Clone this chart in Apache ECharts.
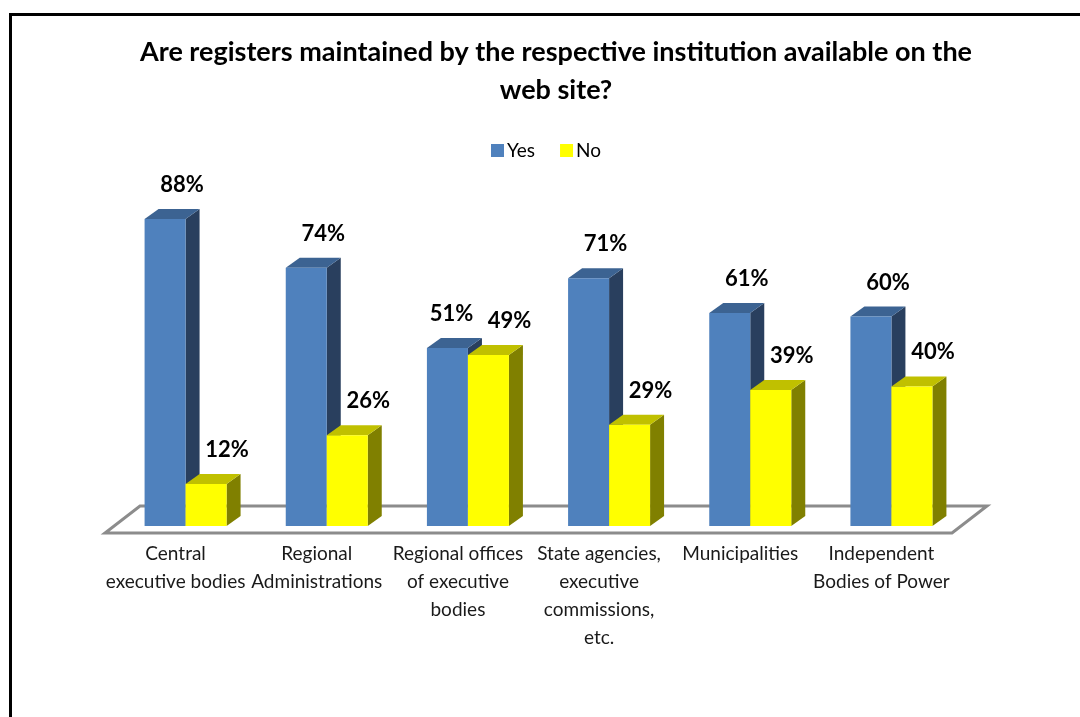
<!DOCTYPE html>
<html><head><meta charset="utf-8">
<script src="https://cdn.jsdelivr.net/npm/echarts@6/dist/echarts.min.js"></script>
<style>html,body{margin:0;padding:0;background:#fff}#c{width:1080px;height:717px}</style>
</head><body><div id="c"></div>
<script>
var categories = ["Central\nexecutive bodies", "Regional\nAdministrations", "Regional offices\nof executive\nbodies", "State agencies,\nexecutive\ncommissions,\netc.", "Municipalities", "Independent\nBodies of Power"];
var yesValues = [88, 74, 51, 71, 61, 60];
var noValues = [12, 26, 49, 29, 39, 40];
var seriesNames = ["Yes", "No"];
var titleText = "Are registers maintained by the respective institution available on the\nweb site?";

var FONT = "Lato, 'Open Sans', sans-serif";
var colors = {
  Yes: {front: "#4F81BD", top: "#3C6392", side: "#293F5E"},
  No: {front: "#FFFF00", top: "#C0C000", side: "#808000"}
};
var DX = 14, DY = 10, BW = 41;

function makeRender(name, offset, labelShift, otherValues) {
  var col = colors[name];
  return function (params, api) {
    var cat = api.value(0), val = api.value(1);
    var base = api.coord([cat, 0]);
    var top = api.coord([cat, val]);
    var x0 = base[0] + offset, x1 = x0 + BW, yb = base[1], yt = top[1];
    var shift = labelShift;
    if (otherValues) {
      var oy = api.coord([cat, otherValues[params.dataIndex]])[1];
      if (Math.abs(oy - yt) < 24) shift -= 13; // avoid collision with neighbour label
    }
    return {
      type: "group",
      children: [
        {type: "polygon", shape: {points: [[x1, yb], [x1 + DX, yb - DY], [x1 + DX, yt - DY], [x1, yt]]}, style: {fill: col.side}},
        {type: "polygon", shape: {points: [[x0, yt], [x0 + DX, yt - DY], [x1 + DX, yt - DY], [x1, yt]]}, style: {fill: col.top}},
        {type: "rect", shape: {x: x0, y: yt, width: BW, height: yb - yt}, style: {fill: col.front}},
        {type: "text", style: {text: val + "%", x: x0 + BW / 2 + shift, y: yt - 34, align: "center", verticalAlign: "middle", font: "bold 22px " + FONT, fill: "#000"}}
      ]
    };
  };
}

function floorRender(params, api) {
  var cs = params.coordSys;
  var l = cs.x, r = cs.x + cs.width, b = cs.y + cs.height;
  return {
    type: "polygon",
    shape: {points: [[l, b + 7], [r, b + 7], [r + 35, b - 20], [l + 35, b - 20]]},
    style: {fill: "#fff", stroke: "#8C8C8C", lineWidth: 3}
  };
}

var chart = echarts.init(document.getElementById("c"));
chart.setOption({
  animation: false,
  backgroundColor: "#fff",
  graphic: [{type: "rect", left: 8, top: 12, shape: {x: 0, y: 0, width: 1100, height: 800}, style: {fill: "none", stroke: "#000", lineWidth: 3}, z: 100}],
  title: {
    text: titleText, left: 551, top: 28, textAlign: "center",
    textStyle: {fontFamily: FONT, fontWeight: "bold", fontSize: 27, lineHeight: 38, color: "#000"}
  },
  legend: {
    data: seriesNames, left: 486, top: 136, icon: "rect", itemWidth: 13, itemHeight: 13, itemGap: 25,
    textStyle: {fontFamily: FONT, fontSize: 19, color: "#000", padding: [0, 0, 0, -2]}
  },
  grid: {left: 105, right: 128, top: 177, bottom: 191},
  xAxis: {
    type: "category", data: categories,
    axisLine: {show: false}, axisTick: {show: false},
    axisLabel: {interval: 0, fontFamily: FONT, fontSize: 19, lineHeight: 28, color: "#1a1a1a", margin: 14}
  },
  yAxis: {type: "value", min: 0, max: 100, show: false, splitLine: {show: false}},
  series: [
    {type: "custom", name: "floor", data: [[0, 0]], renderItem: floorRender, z: 1, silent: true},
    {type: "custom", name: "Yes", data: yesValues.map(function (v, i) { return [i, v]; }), renderItem: makeRender("Yes", -31, 17, noValues), itemStyle: {color: colors.Yes.front}, z: 2},
    {type: "custom", name: "No", data: noValues.map(function (v, i) { return [i, v]; }), renderItem: makeRender("No", 10, 21, null), itemStyle: {color: colors.No.front}, z: 3}
  ]
});
</script></body></html>
